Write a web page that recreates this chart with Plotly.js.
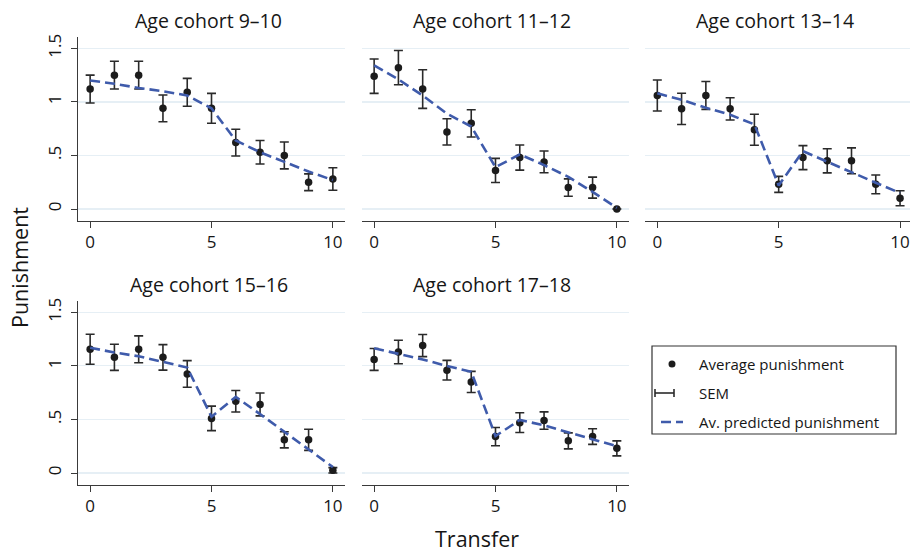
<!DOCTYPE html>
<html>
<head>
<meta charset="utf-8">
<script src="https://cdn.plot.ly/plotly-3.0.1.min.js"></script>
<style>html,body{margin:0;padding:0;background:#fff;}#chart{width:910px;height:552px;}</style>
</head>
<body>
<div id="chart"></div>
<script>
// ---- data ----
const transfer = [0, 1, 2, 3, 4, 5, 6, 7, 8, 9, 10];
const cohortTitles = ["Age cohort 9\u201310", "Age cohort 11\u201312", "Age cohort 13\u201314", "Age cohort 15\u201316", "Age cohort 17\u201318"];

const avg_9_10   = [1.12, 1.25, 1.25, 0.94, 1.09, 0.94, 0.62, 0.53, 0.50, 0.25, 0.28];
const sem_9_10   = [0.13, 0.13, 0.13, 0.125, 0.13, 0.14, 0.125, 0.11, 0.125, 0.078, 0.105];
const pred_9_10  = [1.20, 1.17, 1.13, 1.10, 1.06, 0.94, 0.64, 0.53, 0.44, 0.35, 0.27];

const avg_11_12  = [1.24, 1.32, 1.12, 0.72, 0.80, 0.36, 0.48, 0.44, 0.20, 0.20, 0.00];
const sem_11_12  = [0.16, 0.16, 0.18, 0.123, 0.127, 0.113, 0.117, 0.102, 0.081, 0.098, 0.0];
const pred_11_12 = [1.34, 1.21, 1.06, 0.89, 0.77, 0.39, 0.51, 0.41, 0.30, 0.16, 0.01];

const avg_13_14  = [1.06, 0.935, 1.06, 0.935, 0.74, 0.23, 0.48, 0.45, 0.45, 0.23, 0.10];
const sem_13_14  = [0.145, 0.146, 0.13, 0.104, 0.145, 0.075, 0.112, 0.113, 0.121, 0.087, 0.07];
const pred_13_14 = [1.08, 1.02, 0.945, 0.88, 0.79, 0.22, 0.54, 0.44, 0.34, 0.245, 0.15];

const avg_15_16  = [1.155, 1.08, 1.155, 1.08, 0.925, 0.51, 0.67, 0.64, 0.31, 0.31, 0.025];
const sem_15_16  = [0.14, 0.122, 0.125, 0.119, 0.124, 0.114, 0.10, 0.107, 0.075, 0.099, 0.025];
const pred_15_16 = [1.17, 1.125, 1.09, 1.04, 0.985, 0.525, 0.71, 0.55, 0.385, 0.22, 0.055];

const avg_17_18  = [1.06, 1.13, 1.19, 0.96, 0.85, 0.34, 0.47, 0.49, 0.30, 0.34, 0.23];
const sem_17_18  = [0.102, 0.11, 0.103, 0.092, 0.099, 0.085, 0.092, 0.081, 0.075, 0.073, 0.07];
const pred_17_18 = [1.165, 1.115, 1.06, 1.00, 0.945, 0.345, 0.495, 0.445, 0.38, 0.32, 0.25];

const yTickVals = [0, 0.5, 1, 1.5];
const yTickText = ["0", ".5", "1", "1.5"];
const xTickVals = [0, 5, 10];
const xTickText = ["0", "5", "10"];
const legendLabels = ["Average punishment", "SEM", "Av. predicted punishment"];

// ---- layout geometry (pixels) ----
const W = 910, H = 552;
const FONT = "Open Sans, Noto Sans, sans-serif";
const TXT = "#161616";
const AX = "#3a3a3a";
const BLUE = "#3f5bab";
const DOT = "#1c1c1c";
const GRID = "#e6eff5";

const panels = [
  {avg: avg_9_10,  sem: sem_9_10,  pred: pred_9_10,  x0: 78,  x1: 345, y0: 37,  y1: 221, xr: [-0.5, 10.5], yaxis: true},
  {avg: avg_11_12, sem: sem_11_12, pred: pred_11_12, x0: 362, x1: 629, y0: 37,  y1: 221, xr: [-0.5, 10.5], yaxis: false},
  {avg: avg_13_14, sem: sem_13_14, pred: pred_13_14, x0: 645, x1: 910, y0: 37,  y1: 221, xr: [-0.507, 10.41], yaxis: false},
  {avg: avg_15_16, sem: sem_15_16, pred: pred_15_16, x0: 78,  x1: 345, y0: 301, y1: 485, xr: [-0.5, 10.5], yaxis: true},
  {avg: avg_17_18, sem: sem_17_18, pred: pred_17_18, x0: 362, x1: 629, y0: 301, y1: 485, xr: [-0.5, 10.5], yaxis: false}
];
const yRange = [-0.112, 1.606];

const px = v => v / W;
const py = v => 1 - v / H;

const traces = [];
const layout = {
  width: W, height: H,
  margin: {l: 0, r: 0, t: 0, b: 0},
  paper_bgcolor: "#fff", plot_bgcolor: "#fff",
  showlegend: false,
  font: {family: FONT, color: TXT},
  annotations: [], shapes: []
};

panels.forEach((p, i) => {
  const n = i === 0 ? "" : String(i + 1);
  const xa = "x" + n, ya = "y" + n;
  traces.push({
    x: transfer, y: p.avg, xaxis: xa, yaxis: ya, type: "scatter", mode: "markers",
    name: legendLabels[0],
    marker: {color: DOT, size: 7.5},
    error_y: {type: "data", array: p.sem, visible: true, color: "#2a2a2a", thickness: 1.6, width: 4.5}
  });
  traces.push({
    x: transfer, y: p.pred, xaxis: xa, yaxis: ya, type: "scatter", mode: "lines",
    name: legendLabels[2],
    line: {color: BLUE, width: 2.6, dash: "10px,5px"}
  });
  layout["xaxis" + n] = {
    domain: [px(p.x0), px(p.x1)], range: p.xr, anchor: ya,
    showgrid: false, zeroline: false, showline: true, linecolor: AX, linewidth: 1,
    ticks: "outside", ticklen: 6, tickwidth: 1, tickcolor: AX,
    tickmode: "array", tickvals: xTickVals, ticktext: xTickText,
    tickfont: {size: 17, color: TXT, family: FONT}, fixedrange: true
  };
  layout["yaxis" + n] = {
    domain: [py(p.y1), py(p.y0)], range: yRange, anchor: xa,
    showgrid: true, gridcolor: GRID, gridwidth: 1.2, zeroline: false,
    showline: p.yaxis, linecolor: AX, linewidth: 1,
    ticks: p.yaxis ? "outside" : "", ticklen: 6, tickwidth: 1, tickcolor: AX,
    showticklabels: p.yaxis,
    tickmode: "array", tickvals: yTickVals, ticktext: yTickText, tickangle: -90,
    ticklabelstandoff: 3,
    tickfont: {size: 17, color: TXT, family: FONT}, fixedrange: true
  };
  layout.annotations.push({
    text: cohortTitles[i], xref: "paper", yref: "paper",
    x: px((p.x0 + p.x1) / 2 - 3), y: py(p.y0 - 17), xanchor: "center", yanchor: "middle",
    showarrow: false, font: {size: 19.5, color: TXT, family: FONT}
  });
});

// axis titles
layout.annotations.push({
  text: "Punishment", xref: "paper", yref: "paper", x: px(20), y: py(268),
  xanchor: "center", yanchor: "middle", textangle: -90, showarrow: false,
  font: {size: 21.5, color: TXT, family: FONT}
});
layout.annotations.push({
  text: "Transfer", xref: "paper", yref: "paper", x: px(477), y: py(538),
  xanchor: "center", yanchor: "middle", showarrow: false,
  font: {size: 21.5, color: TXT, family: FONT}
});

// custom legend
const lg = {x0: 652, x1: 896, y0: 346, y1: 434};
layout.shapes.push({type: "rect", xref: "paper", yref: "paper",
  x0: px(lg.x0), x1: px(lg.x1), y0: py(lg.y1), y1: py(lg.y0),
  line: {color: "#333", width: 1.2}, fillcolor: "rgba(0,0,0,0)"});
const rowsY = [364, 393, 422];
// dot
layout.shapes.push({type: "circle", xref: "paper", yref: "paper",
  x0: px(668.5), x1: px(675.5), y0: py(rowsY[0] + 3.5), y1: py(rowsY[0] - 3.5),
  fillcolor: DOT, line: {color: DOT, width: 0}});
// SEM icon
layout.shapes.push({type: "line", xref: "paper", yref: "paper",
  x0: px(655), x1: px(674), y0: py(rowsY[1]), y1: py(rowsY[1]), line: {color: "#2a2a2a", width: 1.6}});
layout.shapes.push({type: "line", xref: "paper", yref: "paper",
  x0: px(655), x1: px(655), y0: py(rowsY[1] - 4), y1: py(rowsY[1] + 4), line: {color: "#2a2a2a", width: 1.6}});
layout.shapes.push({type: "line", xref: "paper", yref: "paper",
  x0: px(674), x1: px(674), y0: py(rowsY[1] - 4), y1: py(rowsY[1] + 4), line: {color: "#2a2a2a", width: 1.6}});
// dashed icon
layout.shapes.push({type: "line", xref: "paper", yref: "paper",
  x0: px(661), x1: px(683), y0: py(rowsY[2]), y1: py(rowsY[2]), line: {color: BLUE, width: 2.6, dash: "10px,5px"}});
legendLabels.forEach((t, k) => {
  layout.annotations.push({
    text: t, xref: "paper", yref: "paper", x: px(697), y: py(rowsY[k]),
    xanchor: "left", yanchor: "middle", showarrow: false,
    font: {size: 15, color: TXT, family: FONT}
  });
});

Plotly.newPlot("chart", traces, layout, {staticPlot: true, displayModeBar: false});
</script>
</body>
</html>
